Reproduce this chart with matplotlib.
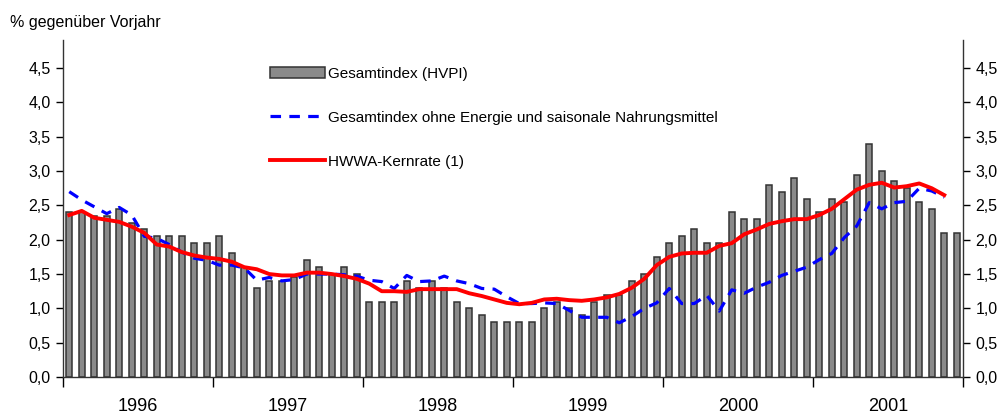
import numpy as np
import matplotlib
matplotlib.use("Agg")
import matplotlib.pyplot as plt
from matplotlib.ticker import FuncFormatter, FixedLocator

plt.rcParams['font.family'] = ['Liberation Sans', 'DejaVu Sans']

years = ["1996", "1997", "1998", "1999", "2000", "2001"]

# monthly rates, Jan 1996 - Dec 2001
hvpi = [2.4, 2.4, 2.35, 2.35, 2.45, 2.25, 2.15, 2.05, 2.05, 2.05, 1.95, 1.95,
        2.05, 1.8, 1.6, 1.3, 1.4, 1.4, 1.45, 1.7, 1.6, 1.5, 1.6, 1.5,
        1.1, 1.1, 1.1, 1.4, 1.3, 1.4, 1.3, 1.1, 1.0, 0.9, 0.8, 0.8,
        0.8, 0.8, 1.0, 1.1, 1.0, 0.9, 1.1, 1.2, 1.2, 1.4, 1.5, 1.75,
        1.95, 2.05, 2.15, 1.95, 1.95, 2.4, 2.3, 2.3, 2.8, 2.7, 2.9, 2.6,
        2.4, 2.6, 2.55, 2.95, 3.4, 3.0, 2.85, 2.75, 2.55, 2.45, 2.1, 2.1]

# Jan 1996 - Nov 2001
ohne_energie = [2.70, 2.58, 2.48, 2.38, 2.47, 2.36, 2.05, 2.02, 1.93, 1.82, 1.73, 1.70,
                1.63, 1.63, 1.59, 1.41, 1.45, 1.40, 1.42, 1.50, 1.50, 1.50, 1.49, 1.47,
                1.41, 1.39, 1.29, 1.48, 1.39, 1.40, 1.47, 1.40, 1.36, 1.29, 1.28, 1.17,
                1.07, 1.07, 1.08, 1.07, 0.97, 0.87, 0.87, 0.87, 0.79, 0.88, 1.00, 1.08,
                1.29, 1.07, 1.07, 1.19, 0.96, 1.27, 1.22, 1.31, 1.38, 1.48, 1.54, 1.60,
                1.71, 1.80, 2.03, 2.20, 2.54, 2.45, 2.54, 2.56, 2.75, 2.71, 2.62]

kern = [2.36, 2.42, 2.32, 2.29, 2.26, 2.19, 2.10, 1.93, 1.90, 1.82, 1.77, 1.74,
        1.72, 1.68, 1.60, 1.57, 1.50, 1.48, 1.48, 1.52, 1.52, 1.50, 1.47, 1.43,
        1.36, 1.25, 1.25, 1.24, 1.28, 1.28, 1.28, 1.28, 1.22, 1.18, 1.13, 1.08,
        1.06, 1.08, 1.13, 1.14, 1.12, 1.11, 1.13, 1.16, 1.21, 1.30, 1.43, 1.63,
        1.75, 1.80, 1.81, 1.81, 1.91, 1.95, 2.08, 2.15, 2.23, 2.27, 2.30, 2.30,
        2.36, 2.45, 2.59, 2.73, 2.80, 2.83, 2.76, 2.78, 2.82, 2.75, 2.65]

x = np.arange(len(hvpi))

fig = plt.figure(figsize=(10.01, 4.16), dpi=100)
ax = fig.add_axes([63 / 1001, 1 - 377 / 416, 900 / 1001, 337 / 416])

bars = ax.bar(x, hvpi, width=0.5, color='#8a8a8a', edgecolor='#333333', linewidth=1.1,
              label='Gesamtindex (HVPI)', zorder=2)
blue, = ax.plot(x[:len(ohne_energie)], ohne_energie, color='#0000ff', linewidth=2.3,
                dashes=(3.3, 2.6), label='Gesamtindex ohne Energie und saisonale Nahrungsmittel',
                zorder=3)
red, = ax.plot(x[:len(kern)], kern, color='#ff0000', linewidth=2.8,
               label='HWWA-Kernrate (1)', zorder=4)

ax.set_xlim(-0.5, len(hvpi) - 0.5)
ax.set_ylim(0, 4.91)

ax.set_yticks(np.arange(0, 4.6, 0.5))
ax.yaxis.set_major_formatter(FuncFormatter(lambda v, p: ('%.1f' % v).replace('.', ',')))
ax.tick_params(axis='y', direction='out', length=5, width=1, labelsize=11.5,
               left=True, right=True, labelleft=True, labelright=True, pad=4)

# year boundaries as major ticks, year names in the middle
ax.xaxis.set_major_locator(FixedLocator(np.arange(-0.5, len(hvpi), 12)))
ax.xaxis.set_minor_locator(FixedLocator(np.arange(5.5, len(hvpi), 12)))
ax.set_xticklabels([], minor=False)
ax.set_xticklabels(years, minor=True)
ax.tick_params(axis='x', which='major', direction='out', length=7, width=1)
ax.tick_params(axis='x', which='minor', length=0, labelsize=13, pad=15)

ax.spines['top'].set_visible(False)
for s in ['left', 'right', 'bottom']:
    ax.spines[s].set_color('#333333')
    ax.spines[s].set_linewidth(1)

fig.text(10 / 1001, 1 - 22 / 416, '% gegenüber Vorjahr', fontsize=11.5, va='center', ha='left')

ax.legend(handles=[bars, blue, red], loc='upper left',
          bbox_to_anchor=(270 / 1001, 1 - 67 / 416),
          bbox_transform=fig.transFigure, frameon=False, fontsize=11,
          handlelength=3.6, handletextpad=0.2, labelspacing=1.95,
          borderpad=0, borderaxespad=0)

fig.savefig('out.png', dpi=100)
